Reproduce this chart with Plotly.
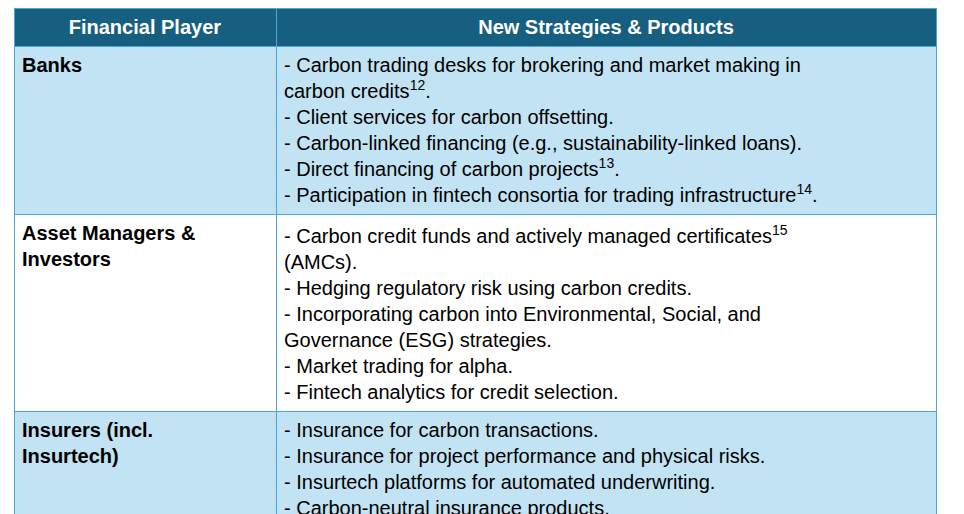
import plotly.graph_objects as go

headers = ["<b>Financial Player</b>", "<b>New Strategies & Products</b>"]
players = ["<b>Banks</b>", "<b>Asset Managers &<br>Investors</b>", "<b>Insurers (incl.<br>Insurtech)</b>"]
strategies = [
    "- Carbon trading desks for brokering and market making in<br>carbon credits<sup>12</sup>.<br>- Client services for carbon offsetting.<br>- Carbon-linked financing (e.g., sustainability-linked loans).<br>- Direct financing of carbon projects<sup>13</sup>.<br>- Participation in fintech consortia for trading infrastructure<sup>14</sup>.",
    "- Carbon credit funds and actively managed certificates<sup>15</sup><br>(AMCs).<br>- Hedging regulatory risk using carbon credits.<br>- Incorporating carbon into Environmental, Social, and<br>Governance (ESG) strategies.<br>- Market trading for alpha.<br>- Fintech analytics for credit selection.",
    "- Insurance for carbon transactions.<br>- Insurance for project performance and physical risks.<br>- Insurtech platforms for automated underwriting.<br>- Carbon-neutral insurance products.<br>- Adjusted risk models for companies with offsets<sup>16</sup>.",
]
row_fill = ["#C2E3F3", "#FFFFFF", "#C2E3F3"]

fig = go.Figure(go.Table(
    domain=dict(x=[6/964, 928/964], y=[0, 1]),
    columnwidth=[262, 660],
    header=dict(values=headers, fill_color="#175F80", line_color="#4DA6DA",
                font=dict(family="Liberation Sans", size=20, color="white"),
                align="center", height=26),
    cells=dict(values=[players, strategies], fill_color=[row_fill, row_fill],
               line_color="#4DA6DA",
               font=dict(family="Liberation Sans", size=20, color="black"),
               align="left", height=22),
))
fig.update_layout(width=964, height=514, margin=dict(l=0, r=0, t=0, b=0),
                  paper_bgcolor="white")
fig.write_html("out.html")
